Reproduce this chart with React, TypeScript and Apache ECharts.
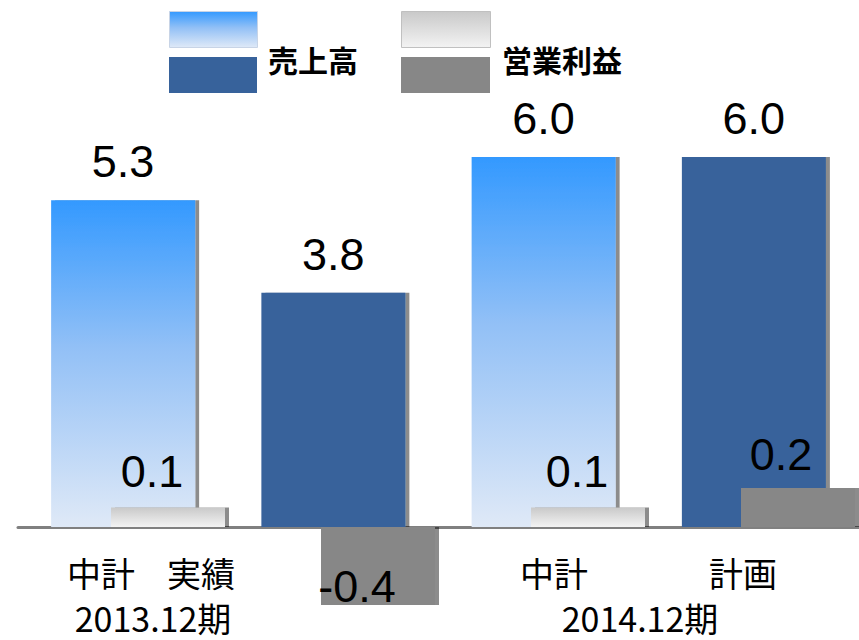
import React, { useEffect, useRef } from 'react';
import * as echarts from 'echarts';

// ---- data ----
const categories = ['中計', '実績', '中計', '計画'];
const periods = ['2013.12期', '2014.12期'];
const salesName = '売上高';
const profitName = '営業利益';
const salesValues = [5.3, 3.8, 6.0, 6.0];
const profitValues = [0.1, -0.4, 0.1, 0.2];
const isPlan = [true, false, true, false];

export default function App() {
  const ref = useRef<HTMLDivElement>(null);

  useEffect(() => {
    document.body.style.margin = '0';
    if (!ref.current) return;
    const chart = echarts.init(ref.current, undefined, { renderer: 'svg' });

    const lightBlue = () =>
      new echarts.graphic.LinearGradient(0, 0, 0, 1, [
        { offset: 0, color: '#3399ff' },
        { offset: 0.45, color: '#92c0f6' },
        { offset: 1, color: '#dfe9f7' },
      ]);
    const darkBlue = '#37629b';
    const lightGray = () =>
      new echarts.graphic.LinearGradient(0, 0, 0, 1, [
        { offset: 0, color: '#c9c9c9' },
        { offset: 1, color: '#f3f3f3' },
      ]);
    const darkGray = '#878787';

    const numFont = "'Liberation Sans', Arial, sans-serif";
    const cjkFont = "'Noto Sans CJK JP', 'Noto Sans', sans-serif";

    // label placement tweaks (style only)
    const profitLabelCfg = [
      { position: 'top', distance: 14, offset: [-16, 0] },
      { position: 'insideBottom', distance: 0, offset: [-21, 4] },
      { position: 'top', distance: 14, offset: [-11, 0] },
      { position: 'top', distance: 11, offset: [-17, 0] },
    ];
    const catLabelPos = [
      [101, 572],
      [201, 572],
      [554, 572],
      [743, 572],
    ];
    const periodPos = [
      [153, 617],
      [640, 617],
    ];

    const option: any = {
      animation: false,
      grid: [
        { left: 18, top: 157, width: 841, height: 370 },
        { left: 168, top: 488, width: 630, height: 117 },
      ],
      xAxis: [
        {
          type: 'category',
          gridIndex: 0,
          data: categories,
          axisLine: { lineStyle: { color: '#808080', width: 3 } },
          axisTick: { show: false },
          axisLabel: { show: false },
          z: 1,
        },
        { type: 'category', gridIndex: 1, data: categories, boundaryGap: false, show: false },
      ],
      yAxis: [
        { type: 'value', gridIndex: 0, min: 0, max: 6, show: false },
        { type: 'value', gridIndex: 1, min: -0.4, max: 0.2, show: false },
      ],
      series: [
        {
          type: 'bar',
          name: salesName,
          xAxisIndex: 0,
          yAxisIndex: 0,
          barWidth: 144,
          z: 2,
          itemStyle: { shadowColor: 'rgba(0,0,0,0.45)', shadowOffsetX: 4, shadowOffsetY: 0, shadowBlur: 0 },
          label: {
            show: true,
            position: 'top',
            distance: 16,
            fontSize: 45,
            fontFamily: numFont,
            color: '#000',
            formatter: (p: any) => Number(p.value).toFixed(1),
          },
          data: salesValues.map((v, i) => ({
            value: v,
            itemStyle: { color: isPlan[i] ? lightBlue() : darkBlue },
          })),
        },
        {
          type: 'bar',
          name: profitName,
          xAxisIndex: 1,
          yAxisIndex: 1,
          barWidth: 114,
          z: 3,
          itemStyle: { shadowColor: 'rgba(0,0,0,0.45)', shadowOffsetX: 4, shadowOffsetY: 0, shadowBlur: 0 },
          label: {
            show: true,
            fontSize: 45,
            fontFamily: numFont,
            color: '#000',
            formatter: (p: any) => Number(p.value).toFixed(1),
          },
          data: profitValues.map((v, i) => ({
            value: v,
            itemStyle: { color: isPlan[i] ? lightGray() : darkGray },
            label: profitLabelCfg[i],
          })),
        },
      ],
      graphic: [
        // legend
        { type: 'rect', left: 169, top: 11, shape: { width: 88, height: 36 }, style: { fill: lightBlue(), stroke: '#c8d4e6', lineWidth: 1 } },
        { type: 'rect', left: 169, top: 57, shape: { width: 88, height: 36 }, style: { fill: darkBlue } },
        {
          type: 'text',
          left: 268,
          top: 44,
          style: { text: salesName, fontSize: 30, fontWeight: 'bold', fontFamily: cjkFont, fill: '#000' },
        },
        { type: 'rect', left: 401, top: 11, shape: { width: 89, height: 36 }, style: { fill: lightGray(), stroke: '#c0c0c0', lineWidth: 1 } },
        { type: 'rect', left: 401, top: 57, shape: { width: 89, height: 36 }, style: { fill: darkGray } },
        {
          type: 'text',
          left: 502,
          top: 44,
          style: { text: profitName, fontSize: 30, fontWeight: 'bold', fontFamily: cjkFont, fill: '#000' },
        },
        // category labels
        ...categories.map((c, i) => ({
          type: 'text',
          x: catLabelPos[i][0],
          y: catLabelPos[i][1],
          style: { text: c, fontSize: 34, fontFamily: cjkFont, fill: '#000', align: 'center', verticalAlign: 'middle' },
        })),
        ...periods.map((p, i) => ({
          type: 'text',
          x: periodPos[i][0],
          y: periodPos[i][1],
          style: { text: p, fontSize: 34, fontFamily: cjkFont, fill: '#000', align: 'center', verticalAlign: 'middle' },
        })),
      ],
    };

    chart.setOption(option);
    return () => chart.dispose();
  }, []);

  return <div ref={ref} style={{ width: 859, height: 640 }} />;
}
